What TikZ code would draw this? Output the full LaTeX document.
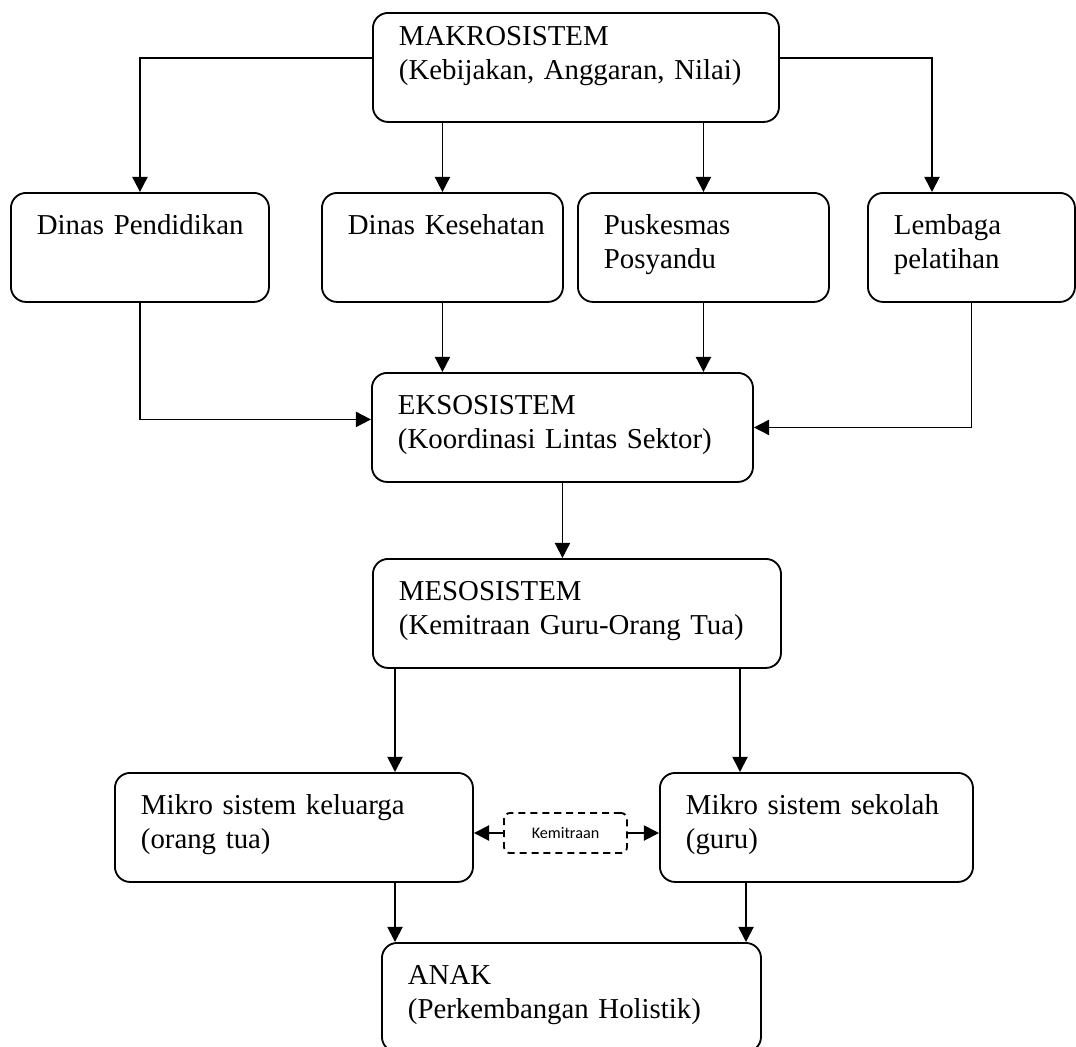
\documentclass[tikz,border=0pt]{standalone}
\usepackage{fontspec}
\setmainfont{Liberation Serif}
\newfontfamily\kemfont{Carlito}
\usetikzlibrary{arrows.meta,positioning,calc}

\begin{document}
\begin{tikzpicture}[x=0.025cm,y=-0.025cm,
box/.style={draw,line width=1.3pt,rounded corners=0.38cm,anchor=north west,align=left,
  inner xsep=0.65cm,inner ysep=0pt,text height=1.05cm,text depth=1.675cm,
  font=\fontsize{20.5}{24.2}\selectfont},
note/.style={draw,line width=1.3pt,dashed,dash pattern=on 5pt off 3.5pt,rounded corners=0.15cm,
  minimum width=3.075cm,minimum height=1cm,inner sep=0pt,font=\kemfont\fontsize{11.5}{13}\selectfont},
arr/.style={-{Triangle[length=0.38cm,width=0.38cm]},line width=1.3pt}]
\useasboundingbox (0,0) rectangle (1076,1046);
\node[box,text width=8.85cm,text height=0.825cm,text depth=1.9cm](makro) at (372,12){MAKROSISTEM\\(Kebijakan, Anggaran, Nilai)};
\node[box,text width=5.15cm](dinpen) at (10,192){\mbox{Dinas Pendidikan}};
\node[box,text width=4.725cm](dinkes) at (321,192){\mbox{Dinas Kesehatan}};
\node[box,text width=4.975cm](pusk) at (577,192){Puskesmas\\Posyandu};
\node[box,text width=3.875cm](lembaga) at (867,192){Lembaga\\pelatihan};
\node[box,text width=8.225cm](ekso) at (371,372){EKSOSISTEM\\(Koordinasi Lintas Sektor)};
\node[box,text width=8.9cm](meso) at (372,558){MESOSISTEM\\(Kemitraan Guru-Orang Tua)};
\node[box,text width=7.65cm](kel) at (114,772){Mikro sistem keluarga\\(orang tua)};
\node[box,text width=6.525cm](sek) at (659,772){Mikro sistem sekolah\\(guru)};
\node[box,text width=8.175cm](anak) at (381,942){ANAK\\(Perkembangan Holistik)};
\node[note](kemit) at (565.5,833){Kemitraan};
\coordinate (m1) at ($(meso.south west)+(23,0)$);
\coordinate (m2) at ($(meso.south west)+(368,0)$);
\coordinate (a1) at ($(anak.north west)+(14,0)$);
\coordinate (a2) at ($(anak.north west)+(365,0)$);
\draw[arr]($(makro.north west)+(0,46)$) -| (dinpen.north);
\draw[arr]($(makro.north east)+(0,46)$) -| ($(lembaga.north west)+(65,0)$);
\draw[arr](dinkes.north |- makro.south) -- (dinkes.north);
\draw[arr](pusk.north |- makro.south) -- (pusk.north);
\draw[arr](dinpen.south) |- ($(ekso.west)+(0,-8)$);
\draw[arr](lembaga.south) |- (ekso.east);
\draw[arr](dinkes.south) -- (dinkes.south |- ekso.north);
\draw[arr](pusk.south) -- (pusk.south |- ekso.north);
\draw[arr](ekso.south) -- (ekso.south |- meso.north);
\draw[arr](m1) -- (m1 |- kel.north);
\draw[arr](m2) -- (m2 |- sek.north);
\draw[arr](a1 |- kel.south) -- (a1);
\draw[arr](a2 |- sek.south) -- (a2);
\draw[arr](kemit.west) -- (kel.east |- kemit.west);
\draw[arr](kemit.east) -- (sek.west |- kemit.east);
\end{tikzpicture}
\end{document}
